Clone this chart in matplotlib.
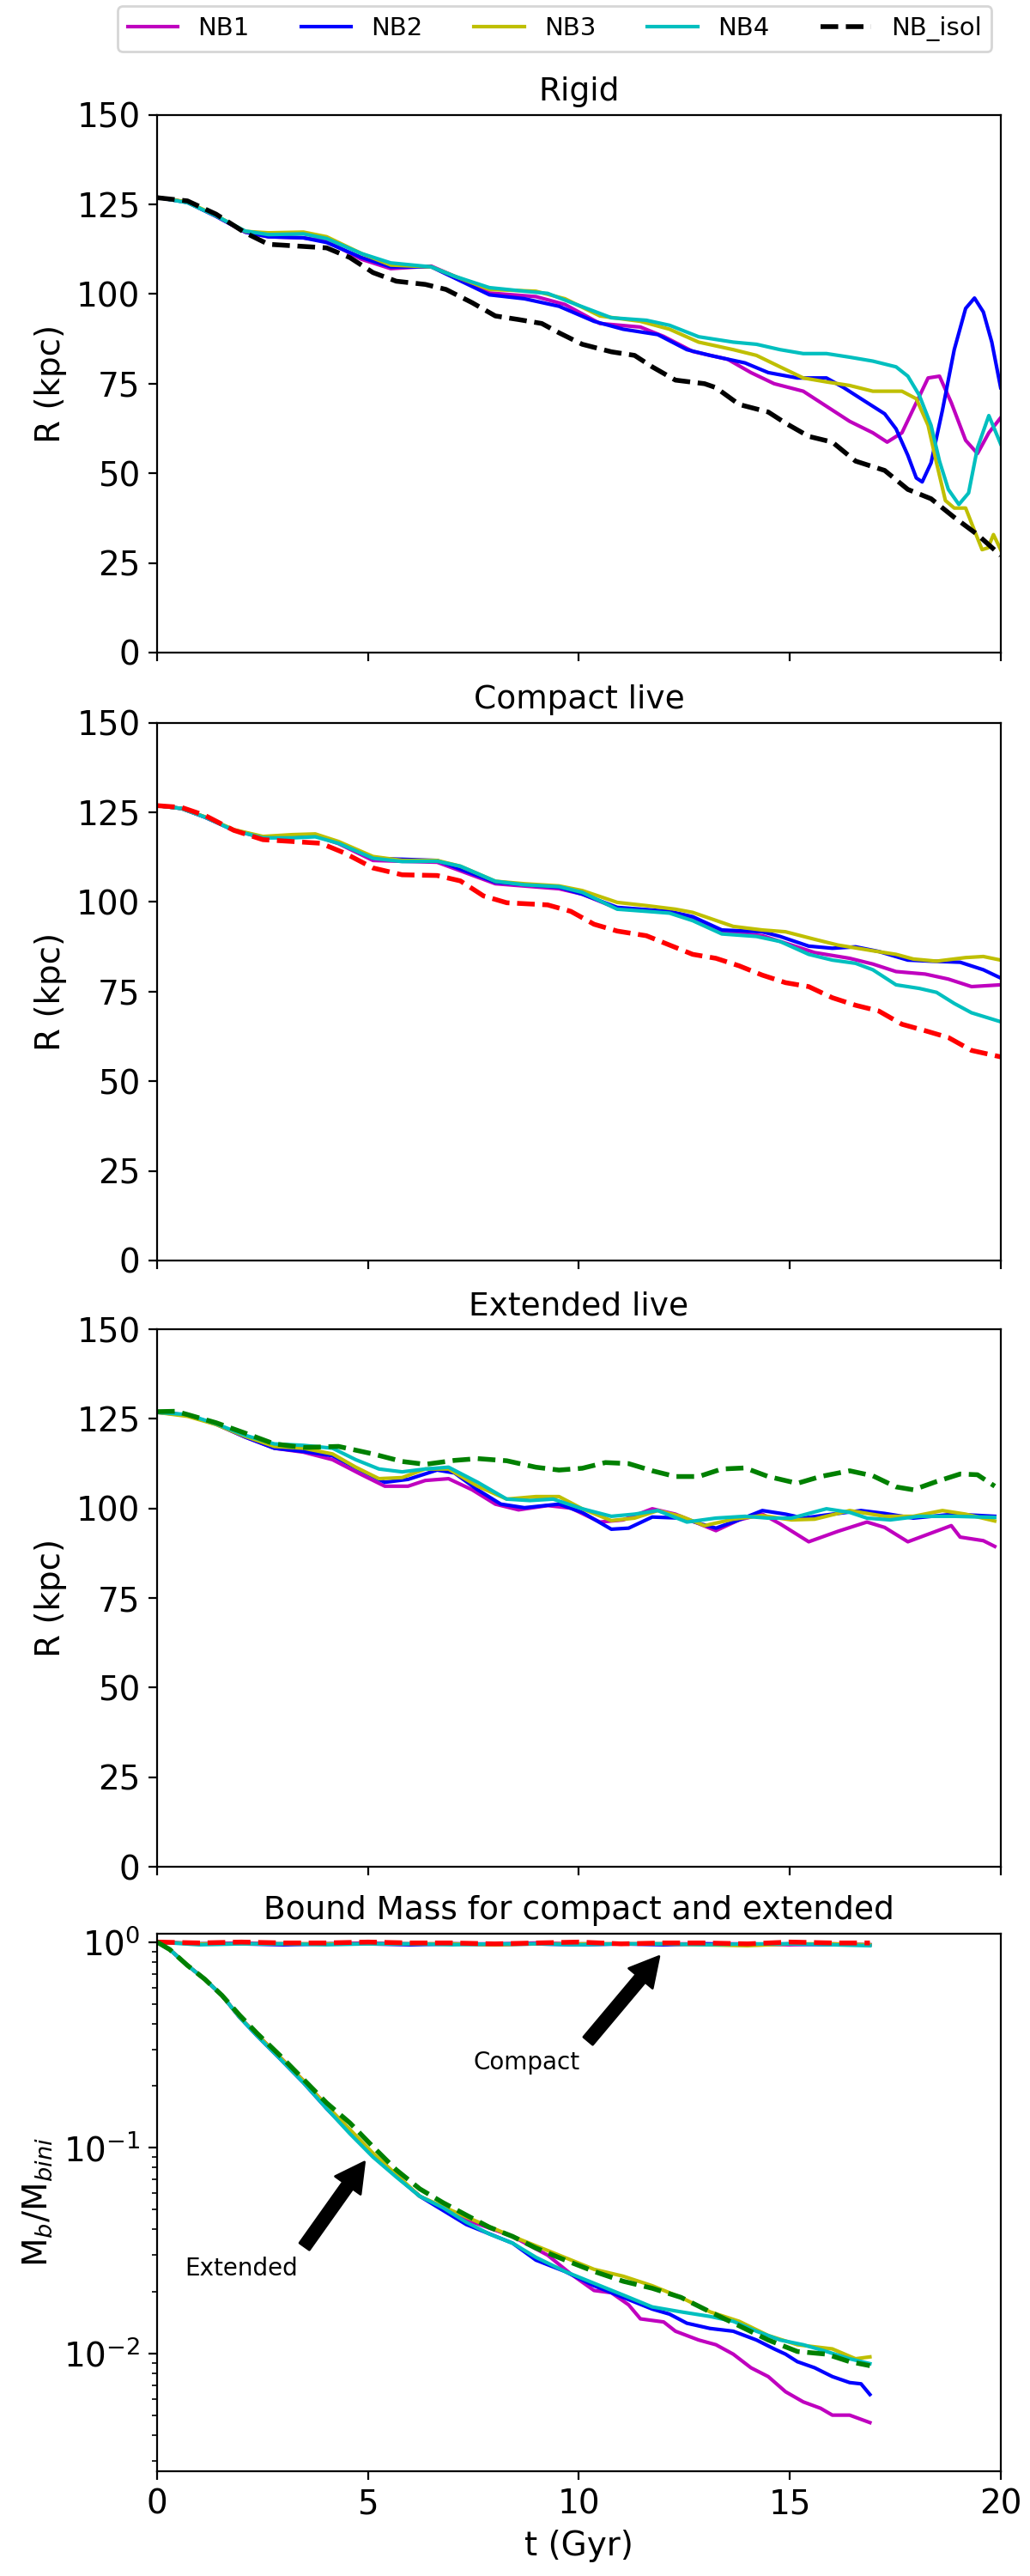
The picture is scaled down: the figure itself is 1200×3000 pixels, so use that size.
import numpy as np
import matplotlib
matplotlib.use('Agg')
import matplotlib.pyplot as plt

# ---- Rigid: orbital radius (kpc) vs t (Gyr)
t_rig_nb1 = [0, 0.72, 1.40, 2.09, 2.64, 3.47, 4.02, 4.85, 5.54, 6.50, 7.05, 7.88, 8.98, 9.67, 10.50, 11.46, 12.01, 12.70,
             13.53, 14.08, 14.63, 15.32, 15.87, 16.42, 16.97, 17.31, 17.66, 18.00, 18.28, 18.55, 18.83, 19.17, 19.45, 19.72, 20.0]
r_rig_nb1 = [127.0, 125.6, 121.7, 117.3, 116.0, 115.7, 114.8, 109.7, 107.1, 107.8, 105.0, 100.3, 99.3, 97.1, 91.8, 90.8, 88.2, 84.0,
             81.8, 78.1, 75.0, 72.9, 68.7, 64.5, 61.3, 58.7, 61.3, 69.7, 76.6, 77.1, 69.7, 59.2, 55.5, 61.3, 65.5]
t_rig_nb2 = [0, 0.72, 1.40, 2.09, 2.64, 3.47, 4.02, 4.85, 5.54, 6.50, 7.05, 7.88, 8.71, 9.53, 10.36, 11.05, 11.87, 12.56, 13.11,
             13.94, 14.49, 15.18, 15.87, 16.28, 16.69, 17.25, 17.52, 17.80, 18.00, 18.14, 18.35, 18.62, 18.90, 19.17, 19.38, 19.59, 19.79, 20.0]
r_rig_nb2 = [127.0, 125.6, 121.7, 117.3, 116.0, 115.7, 114.4, 110.2, 107.6, 107.6, 104.5, 99.8, 98.7, 96.6, 92.4, 90.2, 88.7, 84.5, 82.9,
             80.8, 78.1, 76.6, 76.6, 73.9, 70.8, 66.6, 62.4, 55.0, 48.7, 47.6, 52.9, 67.6, 84.5, 96.0, 98.9, 95.0, 86.6, 73.9]
t_rig_nb3 = [0, 0.72, 1.40, 2.09, 2.64, 3.47, 4.02, 4.85, 5.54, 6.50, 7.05, 7.88, 8.98, 9.67, 10.50, 11.46, 12.15, 12.84, 13.66,
             14.21, 14.77, 15.32, 15.87, 16.42, 16.97, 17.66, 18.00, 18.28, 18.48, 18.69, 18.90, 19.17, 19.38, 19.56, 19.70, 19.83, 20.0]
r_rig_nb3 = [127.0, 125.7, 121.9, 117.5, 117.1, 117.3, 116.0, 111.3, 108.1, 107.6, 105.0, 101.3, 100.8, 98.7, 93.9, 92.4, 90.2, 86.6, 84.5,
             82.9, 79.7, 76.6, 75.5, 74.5, 72.9, 72.9, 70.8, 63.4, 52.9, 42.4, 40.3, 40.3, 34.0, 28.7, 29.2, 32.9, 28.7]
t_rig_nb4 = [0, 0.72, 1.40, 2.09, 2.64, 3.47, 4.02, 4.85, 5.54, 6.50, 7.05, 7.88, 8.71, 9.26, 9.94, 10.77, 11.60, 12.15, 12.84,
             13.66, 14.21, 14.77, 15.32, 15.87, 16.42, 16.97, 17.52, 17.80, 18.07, 18.35, 18.55, 18.76, 19.01, 19.24, 19.45, 19.72, 20.0]
r_rig_nb4 = [127.0, 125.5, 121.8, 117.6, 116.6, 116.8, 115.5, 111.3, 108.7, 107.6, 105.0, 101.8, 100.8, 100.2, 97.1, 93.4, 92.7, 91.3, 88.1,
             86.6, 86.0, 84.5, 83.4, 83.4, 82.4, 81.3, 79.7, 77.1, 71.8, 63.4, 53.4, 45.5, 41.3, 44.5, 57.1, 66.1, 58.2]
t_rig_iso = [0, 0.72, 1.40, 2.09, 2.64, 3.33, 4.02, 4.57, 5.12, 5.67, 6.36, 6.85, 7.47, 8.02, 8.57, 9.12, 9.53, 10.08, 10.77,
             11.32, 11.74, 12.29, 12.98, 13.25, 13.80, 14.49, 14.90, 15.45, 16.01, 16.56, 17.25, 17.80, 18.35, 18.90, 19.45, 20.0]
r_rig_iso = [126.9, 126.0, 122.3, 117.1, 113.9, 113.4, 112.9, 110.2, 106.0, 103.6, 102.7, 101.3, 97.6, 93.9, 92.9, 91.8, 89.2, 86.0, 83.9,
             82.9, 79.7, 76.0, 75.0, 73.9, 69.2, 67.1, 64.0, 60.3, 58.7, 53.4, 50.8, 45.5, 42.9, 37.7, 32.9, 27.1]

# ---- Compact live
t_cmp_nb1 = [0, 0.58, 1.13, 1.82, 2.51, 3.20, 3.75, 4.30, 5.12, 6.64, 8.02, 9.53, 10.08, 10.91, 12.15, 12.70, 13.39, 14.35,
             15.04, 15.59, 16.42, 16.97, 17.52, 18.21, 18.76, 19.31, 20.0]
r_cmp_nb1 = [126.9, 126.1, 123.7, 120.0, 117.9, 118.5, 118.5, 116.3, 111.6, 111.1, 105.1, 103.7, 102.2, 98.2, 97.1, 95.3, 91.7, 90.6,
             88.0, 85.9, 84.3, 82.7, 80.6, 79.9, 78.5, 76.4, 76.9]
t_cmp_nb2 = [0, 0.58, 1.13, 1.82, 2.51, 3.20, 3.75, 4.30, 5.12, 6.64, 8.02, 9.53, 10.08, 10.91, 12.15, 12.70, 13.39, 14.35,
             14.77, 15.45, 16.01, 16.56, 17.11, 17.80, 18.35, 19.04, 19.59, 20.0]
r_cmp_nb2 = [126.9, 126.1, 123.7, 120.1, 118.1, 118.5, 118.8, 116.6, 112.2, 111.6, 105.5, 104.1, 102.2, 98.5, 97.4, 95.9, 92.2, 91.7,
             90.4, 87.7, 87.1, 87.5, 86.2, 83.8, 83.5, 83.2, 81.1, 78.8]
t_cmp_nb3 = [0, 0.58, 1.13, 1.82, 2.51, 3.20, 3.75, 4.30, 5.12, 5.81, 6.64, 7.19, 8.02, 8.71, 9.53, 10.08, 10.91, 11.60, 12.29,
             12.70, 13.66, 14.35, 14.90, 15.59, 16.14, 16.97, 17.52, 17.93, 18.48, 19.17, 19.59, 20.0]
r_cmp_nb3 = [126.9, 126.1, 123.8, 120.2, 118.3, 118.8, 119.0, 116.9, 112.7, 111.6, 111.6, 110.0, 105.8, 105.1, 104.5, 103.2, 99.9, 99.0, 98.0,
             97.1, 93.2, 92.2, 91.7, 89.6, 88.0, 86.4, 85.4, 84.1, 83.5, 84.5, 84.8, 83.8]
t_cmp_nb4 = [0, 0.58, 1.13, 1.82, 2.51, 3.20, 3.75, 4.30, 5.12, 5.81, 6.64, 7.19, 8.02, 8.71, 9.53, 10.08, 10.91, 11.60, 12.15,
             12.70, 13.39, 14.21, 14.77, 15.45, 16.01, 16.56, 16.97, 17.52, 18.07, 18.48, 18.90, 19.31, 20.0]
r_cmp_nb4 = [126.9, 126.1, 123.7, 120.0, 117.9, 117.9, 118.2, 116.4, 112.2, 111.3, 111.4, 110.0, 105.8, 104.8, 104.3, 102.7, 98.0, 97.4, 96.9,
             94.8, 91.1, 90.4, 89.0, 85.4, 83.8, 82.9, 81.1, 76.9, 75.9, 74.8, 71.7, 69.1, 66.6]
t_cmp_iso = [0, 0.58, 1.13, 1.82, 2.51, 3.20, 3.88, 4.44, 5.12, 5.81, 6.64, 7.19, 7.74, 8.29, 9.26, 9.81, 10.36, 10.91, 11.60,
             12.15, 12.70, 13.25, 13.80, 14.35, 14.90, 15.45, 16.01, 16.56, 17.11, 17.66, 18.21, 18.76, 19.31, 20.0]
r_cmp_iso = [126.9, 126.4, 124.2, 120.0, 117.4, 116.9, 116.4, 113.7, 109.5, 107.6, 107.4, 105.9, 101.7, 99.8, 99.2, 97.4, 93.8, 91.9, 90.6,
             88.0, 85.4, 84.3, 82.2, 79.6, 77.5, 76.4, 73.3, 71.2, 69.6, 65.9, 64.1, 62.2, 58.6, 56.8]

# ---- Extended live
t_ext_nb1 = [0, 0.72, 1.40, 2.09, 2.78, 3.47, 4.16, 4.85, 5.40, 5.95, 6.36, 6.91, 7.47, 8.02, 8.57, 9.26, 9.81, 10.50, 11.05,
             11.74, 12.29, 13.25, 13.80, 14.35, 14.77, 15.45, 16.14, 16.83, 17.25, 17.80, 18.35, 18.83, 19.04, 19.59, 19.86]
r_ext_nb1 = [127.0, 126.0, 123.5, 119.9, 116.8, 115.7, 113.6, 109.4, 106.2, 106.2, 107.8, 108.3, 105.2, 101.2, 99.6, 100.8, 100.1, 96.2, 96.8,
             99.9, 98.4, 93.8, 96.8, 98.4, 95.7, 90.7, 93.6, 96.2, 94.7, 90.7, 93.1, 95.2, 92.0, 91.0, 89.4]
t_ext_nb2 = [0, 0.72, 1.40, 2.09, 2.78, 3.47, 4.16, 4.85, 5.40, 5.95, 6.64, 7.05, 7.60, 8.15, 8.71, 9.53, 10.08, 10.77, 11.18,
             11.74, 12.42, 13.25, 13.80, 14.35, 14.90, 15.32, 16.01, 16.69, 17.25, 17.93, 18.90, 19.86]
r_ext_nb2 = [126.8, 126.0, 123.5, 119.9, 116.8, 115.9, 114.7, 110.5, 107.3, 108.1, 110.7, 109.9, 105.2, 101.2, 100.2, 101.2, 98.9, 94.2, 94.5,
             97.6, 97.3, 94.5, 96.8, 99.4, 98.4, 97.3, 98.4, 99.4, 98.6, 97.3, 98.4, 97.8]
t_ext_nb3 = [0, 0.72, 1.40, 2.09, 2.78, 3.47, 4.16, 4.71, 5.26, 5.81, 6.36, 6.91, 7.60, 8.29, 8.98, 9.53, 10.08, 10.77, 11.32,
             11.87, 12.42, 12.98, 13.66, 14.35, 15.04, 15.59, 16.42, 17.25, 17.93, 18.62, 19.17, 19.86]
r_ext_nb3 = [126.8, 125.7, 123.4, 120.1, 117.3, 116.8, 115.2, 111.5, 108.3, 108.6, 111.0, 111.0, 106.2, 102.6, 103.3, 103.3, 99.9, 96.6, 97.3,
             99.4, 97.8, 95.2, 97.0, 98.0, 96.8, 97.0, 99.4, 97.8, 97.8, 99.4, 98.4, 96.5]
t_ext_nb4 = [0, 0.72, 1.40, 2.09, 2.78, 3.47, 4.16, 4.71, 5.26, 5.81, 6.36, 6.91, 7.60, 8.29, 8.84, 9.39, 10.08, 10.77, 11.32,
             11.87, 12.56, 13.25, 13.94, 14.49, 15.04, 15.87, 16.42, 16.83, 17.38, 18.07, 18.90, 19.86]
r_ext_nb4 = [126.8, 126.2, 123.6, 120.4, 118.0, 117.6, 116.8, 113.6, 111.0, 110.2, 111.0, 111.5, 107.3, 102.6, 102.2, 102.6, 99.9, 97.8, 98.4,
             99.4, 96.2, 97.3, 97.8, 97.3, 97.3, 99.9, 98.9, 97.3, 96.8, 97.8, 97.8, 97.5]
t_ext_iso = [0, 0.44, 0.72, 1.40, 2.09, 2.78, 3.47, 4.30, 5.12, 5.81, 6.36, 7.05, 7.60, 8.29, 8.98, 9.53, 10.08, 10.63, 11.18,
             11.74, 12.29, 12.84, 13.39, 13.94, 14.49, 15.18, 15.73, 16.42, 16.97, 17.52, 17.93, 18.48, 19.04, 19.45, 19.86]
r_ext_iso = [127.0, 127.1, 126.2, 123.9, 121.0, 118.0, 117.0, 117.3, 115.2, 113.1, 112.3, 113.4, 113.9, 113.3, 111.5, 110.7, 111.2, 112.8, 112.5,
             110.5, 108.9, 108.9, 111.0, 111.3, 108.9, 107.0, 108.9, 110.5, 109.1, 106.0, 105.2, 107.5, 109.6, 109.4, 106.2]

# ---- Bound mass fraction, compact runs (stay near 1)
t_bm_cmp = [0, 1, 2, 3, 4, 5, 6, 7, 8, 9, 10, 11, 12, 13, 14, 15, 16, 16.9]
m_cmp_nb1 = [1.0, 0.98, 0.99, 0.98, 0.98, 0.99, 0.98, 0.98, 0.98, 0.99, 0.98, 0.98, 0.98, 0.98, 0.98, 0.97, 0.98, 0.97]
m_cmp_nb2 = [1.0, 0.98, 0.98, 0.97, 0.98, 0.98, 0.97, 0.98, 0.97, 0.98, 0.97, 0.98, 0.97, 0.98, 0.97, 0.98, 0.97, 0.97]
m_cmp_nb3 = [1.0, 0.98, 0.98, 0.98, 0.98, 0.98, 0.98, 0.98, 0.97, 0.98, 0.98, 0.98, 0.98, 0.97, 0.96, 0.98, 0.98, 0.97]
m_cmp_nb4 = [1.0, 0.97, 0.98, 0.98, 0.97, 0.98, 0.98, 0.97, 0.98, 0.98, 0.97, 0.98, 0.98, 0.97, 0.98, 0.98, 0.97, 0.96]
m_cmp_iso = [1.0, 0.99, 1.0, 0.99, 0.99, 1.0, 0.99, 0.99, 0.98, 0.99, 1.0, 0.98, 0.99, 0.99, 0.98, 1.0, 0.99, 0.99]

# ---- Bound mass fraction, extended runs
t_bm_nb1 = [0, 0.30, 0.72, 1.13, 1.54, 1.96, 2.37, 2.92, 3.47, 4.02, 5.12, 6.23, 7.33, 8.43, 9.26, 9.81, 10.36, 10.77, 11.18,
            11.46, 12.01, 12.29, 12.84, 13.25, 13.66, 14.08, 14.49, 14.90, 15.32, 15.73, 16.01, 16.42, 16.90]
m_bm_nb1 = [1.0, 0.92, 0.77, 0.66, 0.55, 0.43, 0.355, 0.275, 0.212, 0.16, 0.091, 0.058, 0.0446, 0.037, 0.030, 0.0243, 0.0202, 0.0197, 0.0172,
            0.0147, 0.0142, 0.0128, 0.0116, 0.011, 0.0099, 0.0085, 0.0077, 0.0065, 0.0058, 0.0054, 0.005, 0.005, 0.0046]
t_bm_nb2 = [0, 0.30, 0.72, 1.13, 1.54, 1.96, 2.37, 2.92, 3.47, 4.02, 5.12, 6.23, 7.33, 8.43, 8.98, 9.67, 10.36, 11.05, 11.74,
            12.15, 12.56, 13.11, 13.66, 14.21, 14.63, 14.90, 15.18, 15.59, 16.01, 16.42, 16.69, 16.90]
m_bm_nb2 = [1.0, 0.92, 0.77, 0.66, 0.55, 0.43, 0.35, 0.27, 0.207, 0.155, 0.091, 0.058, 0.0423, 0.0343, 0.0284, 0.025, 0.0213, 0.0187, 0.0164,
            0.0155, 0.014, 0.0132, 0.0128, 0.0116, 0.0105, 0.0099, 0.0091, 0.0085, 0.0077, 0.0072, 0.0071, 0.0063]
t_bm_nb3 = [0, 0.30, 0.72, 1.13, 1.54, 1.96, 2.37, 2.92, 3.47, 4.02, 5.12, 6.23, 7.33, 8.43, 9.26, 10.36, 11.05, 11.74, 12.42,
            13.11, 13.80, 14.49, 15.18, 16.01, 16.56, 16.90]
m_bm_nb3 = [1.0, 0.92, 0.77, 0.66, 0.55, 0.43, 0.355, 0.275, 0.212, 0.16, 0.094, 0.058, 0.046, 0.037, 0.0316, 0.0256, 0.0237, 0.0213, 0.0187,
            0.0159, 0.0143, 0.0122, 0.011, 0.0105, 0.0094, 0.0096]
t_bm_nb4 = [0, 0.30, 0.72, 1.13, 1.54, 1.96, 2.37, 2.92, 3.47, 4.02, 4.57, 5.12, 5.67, 6.23, 6.78, 7.33, 7.88, 8.43, 8.98,
            9.67, 10.36, 11.05, 11.74, 12.42, 13.11, 13.66, 14.21, 14.77, 15.32, 15.87, 16.42, 16.90]
m_bm_nb4 = [1.0, 0.92, 0.77, 0.66, 0.55, 0.43, 0.35, 0.27, 0.207, 0.155, 0.117, 0.090, 0.072, 0.058, 0.051, 0.0434, 0.038, 0.0343, 0.0293,
            0.025, 0.0219, 0.0192, 0.0168, 0.0159, 0.0151, 0.0143, 0.0128, 0.0116, 0.011, 0.0102, 0.0094, 0.0089]
t_bm_iso = [0, 0.30, 0.72, 1.13, 1.54, 1.96, 2.37, 2.92, 3.47, 4.02, 4.57, 5.12, 5.67, 6.23, 6.78, 7.33, 7.88, 8.43, 8.98,
            9.67, 10.36, 11.05, 11.74, 12.42, 13.11, 13.80, 14.49, 15.18, 15.87, 16.42, 16.90]
m_bm_iso = [1.0, 0.92, 0.77, 0.66, 0.55, 0.44, 0.36, 0.28, 0.215, 0.165, 0.132, 0.101, 0.078, 0.063, 0.054, 0.047, 0.041, 0.037, 0.0325,
            0.0284, 0.025, 0.0224, 0.0207, 0.0187, 0.0159, 0.0136, 0.0116, 0.0102, 0.0099, 0.0091, 0.0087]

labels = ['NB1', 'NB2', 'NB3', 'NB4', 'NB_isol']
colors = ['m', 'b', 'y', 'c']

plt.rcParams['font.family'] = 'DejaVu Sans'
plt.rcParams['xtick.labelsize'] = 14
plt.rcParams['ytick.labelsize'] = 14

fig = plt.figure(figsize=(6, 15), dpi=200)
left, width, height = 0.1525, 0.819, 0.2087
bottoms = [0.7467, 0.5107, 0.2753, 0.0407]
axes = [fig.add_axes([left, b, width, height]) for b in bottoms]

lw = 1.5
dlw = 2.0

panels = [
    ('Rigid', [(t_rig_nb1, r_rig_nb1), (t_rig_nb2, r_rig_nb2), (t_rig_nb3, r_rig_nb3), (t_rig_nb4, r_rig_nb4)],
     (t_rig_iso, r_rig_iso), 'k'),
    ('Compact live', [(t_cmp_nb1, r_cmp_nb1), (t_cmp_nb2, r_cmp_nb2), (t_cmp_nb3, r_cmp_nb3), (t_cmp_nb4, r_cmp_nb4)],
     (t_cmp_iso, r_cmp_iso), 'r'),
    ('Extended live', [(t_ext_nb1, r_ext_nb1), (t_ext_nb2, r_ext_nb2), (t_ext_nb3, r_ext_nb3), (t_ext_nb4, r_ext_nb4)],
     (t_ext_iso, r_ext_iso), 'g'),
]

handles = []
for i, (title, runs, iso, isocol) in enumerate(panels):
    ax = axes[i]
    for (t, r), col, lab in zip(runs, colors, labels):
        h, = ax.plot(t, r, color=col, lw=lw, label=lab)
        if i == 0:
            handles.append(h)
    h, = ax.plot(iso[0], iso[1], color=isocol, ls='--', lw=dlw, label=labels[4])
    if i == 0:
        handles.append(h)
    ax.set_xlim(0, 20)
    ax.set_ylim(0, 150)
    ax.set_yticks(np.arange(0, 151, 25))
    ax.set_xticks([0, 5, 10, 15, 20])
    ax.set_xticklabels([])
    ax.set_ylabel('R (kpc)', fontsize=14)
    ax.set_title(title, fontsize=13.5)

# bound mass panel
ax = axes[3]
for m, col in zip([m_cmp_nb1, m_cmp_nb2, m_cmp_nb3, m_cmp_nb4], colors):
    ax.plot(t_bm_cmp, m, color=col, lw=lw)
ax.plot(t_bm_cmp, m_cmp_iso, color='r', ls='--', lw=dlw)
for (t, m), col in zip([(t_bm_nb1, m_bm_nb1), (t_bm_nb2, m_bm_nb2), (t_bm_nb3, m_bm_nb3), (t_bm_nb4, m_bm_nb4)], colors):
    ax.plot(t, m, color=col, lw=lw)
ax.plot(t_bm_iso, m_bm_iso, color='g', ls='--', lw=dlw)
ax.set_yscale('log')
ax.set_xlim(0, 20)
ax.set_ylim(2.67e-3, 1.1)
ax.set_xticks([0, 5, 10, 15, 20])
ax.set_xlabel('t (Gyr)', fontsize=14)
ax.set_ylabel(r'M$_b$/M$_{bini}$', fontsize=14)
ax.set_title('Bound Mass for compact and extended', fontsize=13.5)

arrow = dict(facecolor='black', shrink=0.05, width=5, headwidth=13, headlength=12)
ax.annotate('Compact', xy=(12, 0.9), xytext=(7.5, 0.24), fontsize=10, arrowprops=arrow)
ax.annotate('Extended', xy=(5, 0.09), xytext=(0.65, 0.024), fontsize=10, arrowprops=arrow)

fig.legend(handles, labels, loc='lower left', ncol=5, mode='expand', fontsize=10.5,
           bbox_to_anchor=(0.102, 0.9753, 0.873, 0.015))

fig.savefig('out.png', dpi=200)
